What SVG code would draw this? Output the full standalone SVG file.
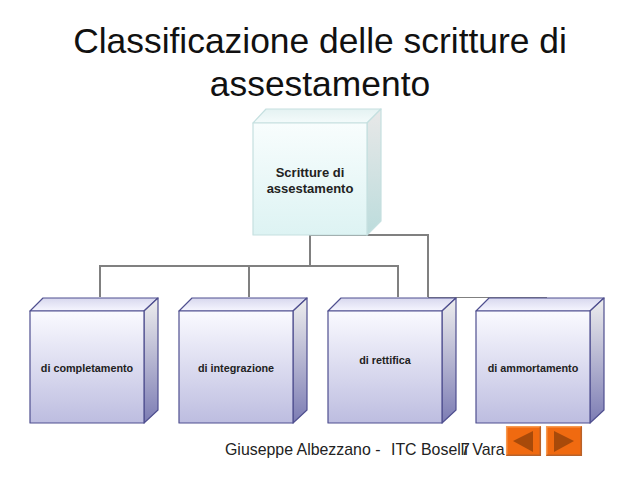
<svg xmlns="http://www.w3.org/2000/svg" width="639" height="480" viewBox="0 0 639 480">
<style>
text{font-family:"Liberation Sans",Arial,sans-serif;fill:#111}
.t{font-size:35.4px;text-anchor:middle}
.l{font-size:10.8px;font-weight:bold;text-anchor:middle;fill:#222}
.m{font-size:13px;font-weight:bold;text-anchor:middle;fill:#222}
.f{font-size:15.9px;fill:#222}
.c{fill:none;stroke:#808080;stroke-width:2}
.b{stroke:#4f4f8f;stroke-width:1.2;stroke-linejoin:round}
.a{stroke:#c5e0e0;stroke-width:1.2;stroke-linejoin:round}
.bg{fill:#f06a10}
.hi{fill:none;stroke:#f79a50;stroke-width:1.5}
.lo{fill:none;stroke:#b8622a;stroke-width:1.5}
.ar{fill:#a84a0a}
</style>
<defs>
<linearGradient id="bf" x1="0" y1="0" x2="0" y2="1"><stop offset="0" stop-color="#fafaff"/><stop offset="1" stop-color="#bdbde0"/></linearGradient>
<linearGradient id="bs" x1="0" y1="0" x2="0" y2="1"><stop offset="0" stop-color="#eeeeee"/><stop offset="1" stop-color="#7c7cb4"/></linearGradient>
<linearGradient id="bt" x1="0" y1="0" x2="0" y2="1"><stop offset="0" stop-color="#d8d8ee"/><stop offset="1" stop-color="#f6f6ff"/></linearGradient>
<linearGradient id="af" x1="0" y1="0" x2="0" y2="1"><stop offset="0" stop-color="#f8fdfd"/><stop offset="1" stop-color="#ddf3f3"/></linearGradient>
<linearGradient id="as" x1="0" y1="0" x2="0" y2="1"><stop offset="0" stop-color="#e8e8e8"/><stop offset="1" stop-color="#bcdcdc"/></linearGradient>
<linearGradient id="at" x1="0" y1="0" x2="0" y2="1"><stop offset="0" stop-color="#e4f2f2"/><stop offset="1" stop-color="#f4fbfb"/></linearGradient>
<g id="box"><path class="b" fill="url(#bt)" d="M0 13L13 0H128L114 13Z"/><path class="b" fill="url(#bs)" d="M114 13L128 0V112L114 125Z"/><rect class="b" fill="url(#bf)" x="0" y="13" width="114" height="112"/></g>
</defs>
<g id="title"><text class="t" x="320" y="53">Classificazione delle scritture di</text><text class="t" x="320" y="96">assestamento</text></g>
<g id="connectors">
<path class="c" d="M310 235V265M100 297V266H398V297M249 266V297M310 235H428V297"/>
<path d="M428 297.500H547" fill="none" stroke="#808080" stroke-width="1.2"/>
</g>
<g id="n0">
<path class="a" fill="url(#at)" d="M253 123L266 109H381L367 123Z"/><path class="a" fill="url(#as)" d="M367 123L381 109V221L367 235Z"/><rect class="a" fill="url(#af)" x="253" y="123" width="114" height="112"/>
<text class="m" x="310" y="177">Scritture di</text><text class="m" x="310" y="193">assestamento</text></g>
<g id="n1"><use href="#box" x="30" y="298"/><text class="l" x="87" y="372">di completamento</text></g>
<g id="n2"><use href="#box" x="179" y="298"/><text class="l" x="236" y="372">di integrazione</text></g>
<g id="n3"><use href="#box" x="328" y="298"/><text class="l" x="385" y="364">di rettifica</text></g>
<g id="n4"><use href="#box" x="476" y="298"/><text class="l" x="533" y="372">di ammortamento</text></g>
<g id="footer"><text class="f" x="225" y="455">Giuseppe Albezzano -</text><text class="f" x="391" y="455">ITC Boselli Vara</text><text class="f" x="461" y="455">7</text></g>
<g id="prev"><rect class="bg" x="506" y="426" width="35" height="30"/><path class="hi" d="M506.700 455.300V426.700H540.300"/><path class="lo" d="M540.300 426.700V455.300H506.700"/><path class="ar" d="M513 441L533 431V452Z"/></g>
<g id="next"><rect class="bg" x="546" y="426" width="36" height="30"/><path class="hi" d="M546.700 455.300V426.700H581.300"/><path class="lo" d="M581.300 426.700V455.300H546.700"/><path class="ar" d="M554 431L574 441L554 452Z"/></g>
</svg>
